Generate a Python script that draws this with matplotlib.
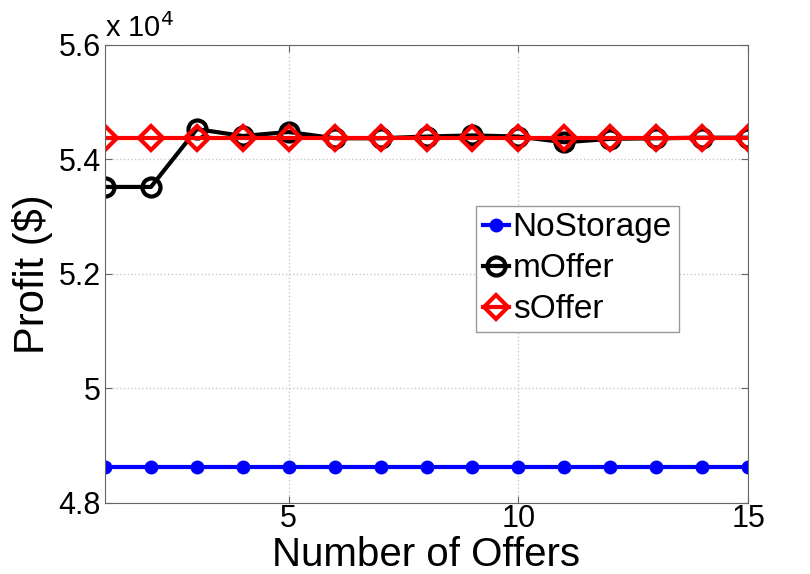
import numpy as np
import matplotlib.pyplot as plt
from matplotlib.ticker import FuncFormatter

plt.rcParams['font.family'] = ['Liberation Sans', 'DejaVu Sans']

# data
offers = list(range(1, 16))
no_storage = [48630] * 15
m_offer = [53520, 53520, 54530, 54410, 54480, 54370, 54370, 54400, 54420,
           54400, 54300, 54360, 54370, 54380, 54380]
s_offer = [54375] * 15

fig = plt.figure(figsize=(8.1, 5.74), dpi=100)
ax = fig.add_axes([0.1296, 0.1237, 0.794, 0.798])

ax.plot(offers, no_storage, color='blue', lw=3, marker='o', ms=9,
        mfc='blue', mec='blue', label='NoStorage')
ax.plot(offers, m_offer, color='black', lw=3, marker='o', ms=13,
        mfc='none', mec='black', mew=3, label='mOffer')
ax.plot(offers, s_offer, color='red', lw=3, marker='D', ms=12,
        mfc='none', mec='red', mew=3, label='sOffer')

ax.set_xlim(1, 15)
ax.set_ylim(48000, 56000)
ax.set_xticks([5, 10, 15])
ax.set_yticks([48000, 50000, 52000, 54000, 56000])
ax.yaxis.set_major_formatter(FuncFormatter(lambda v, p: '%g' % (v / 1e4)))
ax.grid(True, linestyle=':', color='#c8c8c8', lw=1)
ax.tick_params(direction='in', labelsize=22, length=5, color='#666666',
               top=True, right=True)
ax.tick_params(axis='y', pad=3)
ax.tick_params(axis='x', pad=1)
for s in ax.spines.values():
    s.set_color('#666666')

ax.set_xlabel('Number of Offers', fontsize=29, labelpad=1)
ax.set_ylabel('Profit ($)', fontsize=30, labelpad=4)
ax.text(0.0, 1.005, 'x 10$^4$', transform=ax.transAxes, fontsize=21,
        ha='left', va='bottom')

leg = ax.legend(loc='lower left', bbox_to_anchor=(0.577, 0.373), fontsize=24,
                handlelength=0.8, handletextpad=0.1, borderpad=0.2,
                labelspacing=0.3, fancybox=False, framealpha=1,
                borderaxespad=0)
leg.get_frame().set_edgecolor('#999999')

fig.savefig('out.png', dpi=100)
